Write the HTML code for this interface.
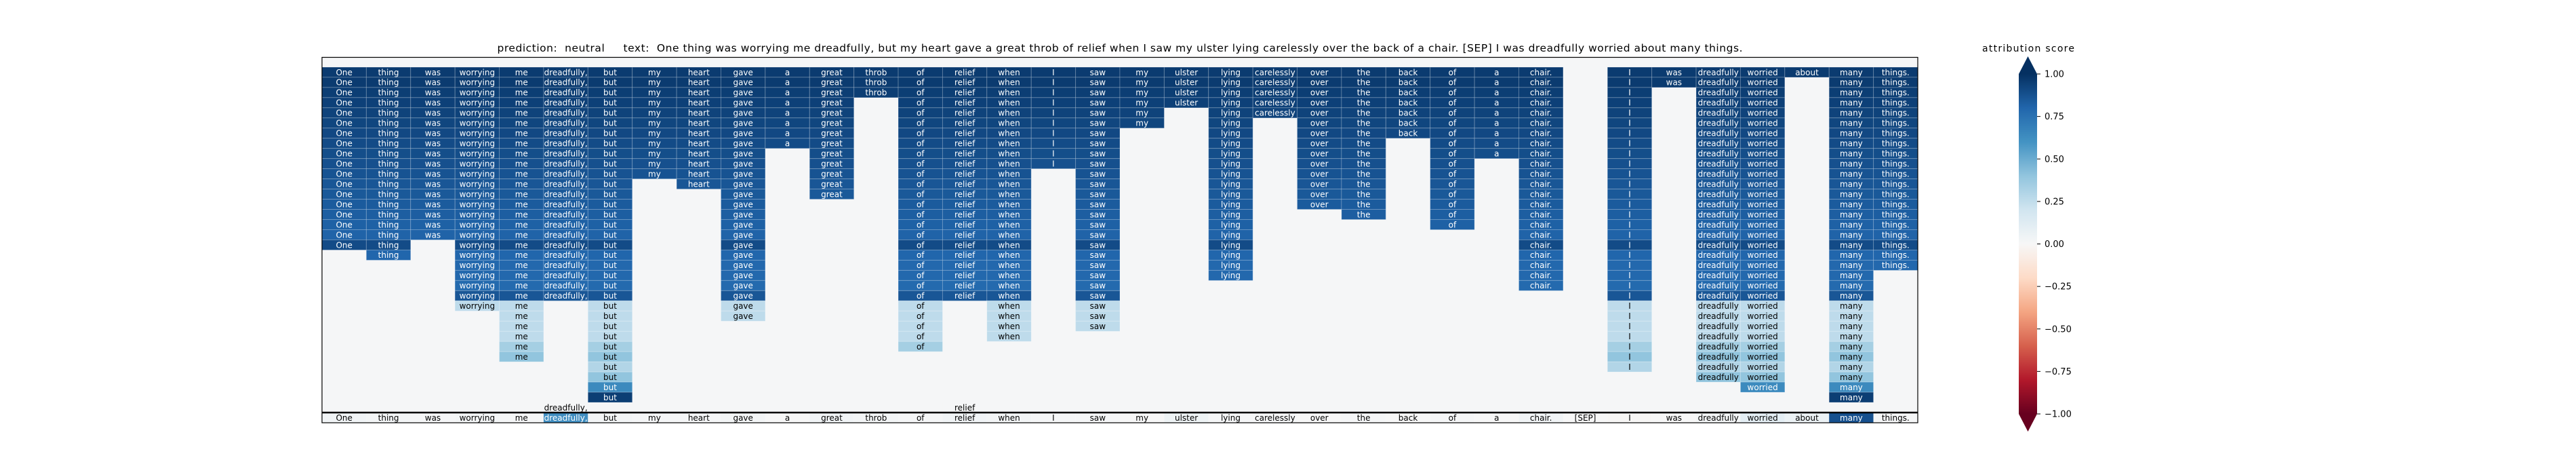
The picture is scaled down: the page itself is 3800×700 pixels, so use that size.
<!DOCTYPE html>
<html><head><meta charset="utf-8"><style>
html,body{margin:0;padding:0;background:#fff;}
svg{display:block;font-family:"DejaVu Sans","Liberation Sans",sans-serif;}
.pre{white-space:pre;}
</style></head><body>
<svg id="chart" width="3800" height="700" viewBox="0 0 3800 700" xmlns="http://www.w3.org/2000/svg">
<rect x="0" y="0" width="3800" height="700" fill="#ffffff"/>
<text class="pre" xml:space="preserve" x="1652" y="76" font-size="15.5" text-anchor="middle" textLength="1837" lengthAdjust="spacing" fill="#000">prediction:  neutral     text:  One thing was worrying me dreadfully, but my heart gave a great throb of relief when I saw my ulster lying carelessly over the back of a chair. [SEP] I was dreadfully worried about many things.</text>
<g id="cells"></g>
<g id="bottomrow"></g>
<line x1="475" y1="608" x2="2829" y2="608" stroke="#000" stroke-width="2.5"/>
<rect x="475" y="84.5" width="2354" height="538.5" fill="none" stroke="#000" stroke-width="1.2"/>
<defs>
<linearGradient id="cbgrad" x1="0" y1="1" x2="0" y2="0">
<stop offset="0" stop-color="#67001f"/><stop offset="0.1" stop-color="#b2182b"/><stop offset="0.2" stop-color="#d6604d"/><stop offset="0.3" stop-color="#f4a582"/><stop offset="0.4" stop-color="#fddbc7"/><stop offset="0.5" stop-color="#f7f7f7"/><stop offset="0.6" stop-color="#d1e5f0"/><stop offset="0.7" stop-color="#92c5de"/><stop offset="0.8" stop-color="#4393c3"/><stop offset="0.9" stop-color="#2166ac"/><stop offset="1" stop-color="#053061"/>
</linearGradient>
</defs>
<g id="colorbar">
<rect x="2978" y="109" width="27" height="501" fill="url(#cbgrad)"/>
<polygon points="2978,109 3005,109 2991.5,83" fill="#053061"/>
<polygon points="2978,610 3005,610 2991.5,636" fill="#67001f"/>
<text x="2992" y="76" font-size="14" text-anchor="middle" textLength="136" lengthAdjust="spacing" fill="#000">attribution score</text>
</g>
<g id="cbticks"></g>
</svg>
<script>
const tokens = ["One","thing","was","worrying","me","dreadfully,","but","my","heart","gave","a","great","throb","of","relief","when","I","saw","my","ulster","lying","carelessly","over","the","back","of","a","chair.","[SEP]","I","was","dreadfully","worried","about","many","things."];
const columnDepth = [18,19,17,24,29,23,33,11,12,25,8,13,3,28,23,27,10,26,6,4,21,5,14,15,7,16,9,22,0,30,2,31,32,1,33,20];
const rowValues = [0.96,0.96,0.95,0.94,0.93,0.92,0.91,0.90,0.89,0.88,0.87,0.86,0.85,0.84,0.83,0.82,0.81,0.90,0.80,0.79,0.79,0.78,0.86,0.26,0.26,0.26,0.26,0.34,0.40,0.30,0.40,0.64,0.95];
const extraLabelColumns = [5,14];
const extraLabelValue = 0.01;
const tokenScores = [0.03,0.02,0.01,0.02,0.01,0.62,0.02,0.01,0.01,0.02,0.0,0.03,0.02,0.01,0.03,0.02,0.01,0.01,0.0,0.05,0.01,0.01,0.0,0.01,0.0,0.01,0.0,0.03,0.0,-0.01,0.0,0.02,0.1,0.06,0.88,0.01];
const cbTickValues = [1.0,0.75,0.5,0.25,0.0,-0.25,-0.5,-0.75,-1.0];
const cbTickLabels = ["1.00","0.75","0.50","0.25","0.00","\u22120.25","\u22120.50","\u22120.75","\u22121.00"];

const NS="http://www.w3.org/2000/svg";
const plotX0=475, plotX1=2829, plotY0=84, sepY=608, nRows=35;
const colW=(plotX1-plotX0)/tokens.length;
const rowH=(sepY-plotY0)/nRows;
const xPos=i=>plotX0+i*colW;
const yPos=r=>plotY0+r*rowH;
const cbY=v=>109+(1-v)/2*501;
const stops=["#67001f","#b2182b","#d6604d","#f4a582","#fddbc7","#f7f7f7","#d1e5f0","#92c5de","#4393c3","#2166ac","#053061"].map(h=>[parseInt(h.substr(1,2),16),parseInt(h.substr(3,2),16),parseInt(h.substr(5,2),16)]);
function color(v){
  let t=Math.max(0,Math.min(1,(v+1)/2))*10;
  let i=Math.min(9,Math.floor(t)),f=t-i;
  const a=stops[i],b=stops[i+1];
  return "rgb("+a.map((c,k)=>Math.round(c+(b[k]-c)*f)).join(",")+")";
}
function mk(tag,attrs,parent){const e=document.createElementNS(NS,tag);for(const k in attrs)e.setAttribute(k,attrs[k]);parent.appendChild(e);return e;}
const cells=document.getElementById("cells");
const bg=mk("rect",{x:plotX0,y:plotY0,width:plotX1-plotX0,height:sepY-plotY0,fill:color(0.01)},cells);


function label(txt,cx,cy,v,parent){
  const t=mk("text",{x:cx,y:cy+4.3,"font-size":"12","text-anchor":"middle",fill:v>0.5?"#fff":"#000"},parent);
  t.textContent=txt;
  
  
}
tokens.forEach((tok,c)=>{
  for(let r=1;r<=columnDepth[c];r++){
    const v=rowValues[r-1];
    const rc=mk("rect",{x:xPos(c),y:yPos(r),width:colW,height:rowH,fill:color(v),stroke:"rgba(255,255,255,0.22)","stroke-width":"1"},cells);
    
    
    label(tok,xPos(c)+colW/2,yPos(r)+rowH/2,v,cells);
  }
});
extraLabelColumns.forEach(c=>{
  const rc=mk("rect",{x:xPos(c),y:yPos(34),width:colW,height:rowH,fill:color(extraLabelValue)},cells);
  
  
  label(tokens[c],xPos(c)+colW/2,yPos(34)+rowH/2,extraLabelValue,cells);
});
const br=document.getElementById("bottomrow");
tokens.forEach((tok,c)=>{
  const v=tokenScores[c];
  const rc=mk("rect",{x:xPos(c),y:sepY,width:colW,height:15,fill:color(v)},br);
  
  
  label(tok,xPos(c)+colW/2,sepY+7.5,v,br);
});
const cbt=document.getElementById("cbticks");
cbTickValues.forEach((v,i)=>{
  const y=cbY(v);
  const ln=mk("line",{x1:3005,x2:3010,y1:y,y2:y,stroke:"#000","stroke-width":"1"},cbt);
  
  
  const t=mk("text",{x:3016,y:y+4.5,"font-size":"13",fill:"#000"},cbt);
  t.textContent=cbTickLabels[i];
  
  
});
</script>
</body></html>
